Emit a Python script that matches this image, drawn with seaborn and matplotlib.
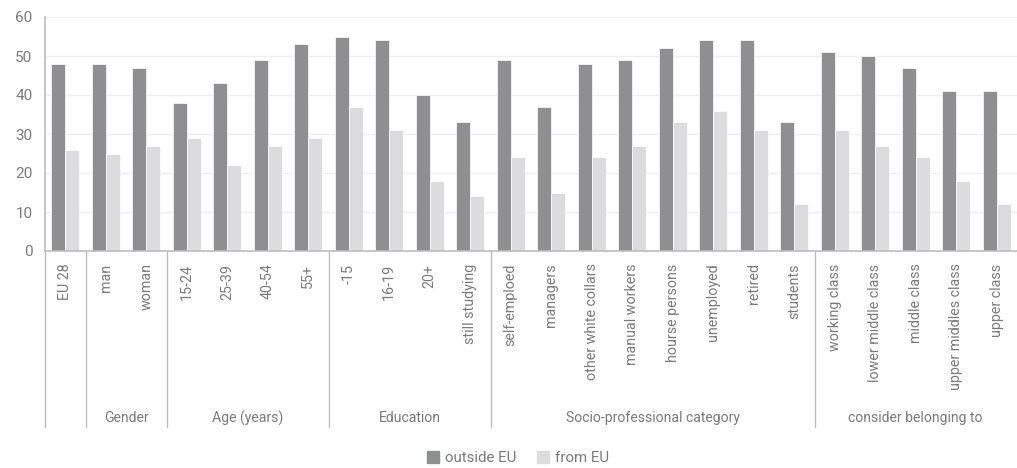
import pandas as pd
import matplotlib
matplotlib.use("Agg")
import matplotlib.pyplot as plt
import matplotlib.transforms as mtransforms
import seaborn as sns

# Categories and values
categories = ["EU 28", "man", "woman", "15-24", "25-39", "40-54", "55+",
              "-15", "16-19", "20+", "still studying",
              "self-emploed", "managers", "other white collars", "manual workers",
              "hourse persons", "unemployed", "retired", "students",
              "working class", "lower middle class", "middle class",
              "upper middles class", "upper class"]
outside_eu = [48, 48, 47, 38, 43, 49, 53, 55, 54, 40, 33,
              49, 37, 48, 49, 52, 54, 54, 33, 51, 50, 47, 41, 41]
from_eu = [26, 25, 27, 29, 22, 27, 29, 37, 31, 18, 14,
           24, 15, 24, 27, 33, 36, 31, 12, 31, 27, 24, 18, 12]
groups = ["", "Gender", "Age (years)", "Education",
          "Socio-professional category", "consider belonging to"]
group_sizes = [1, 2, 4, 4, 8, 5]
series = ["outside EU", "from EU"]
colors = {"outside EU": "#8e8f93", "from EU": "#dcdcde"}

# Long dataframe for seaborn
df = pd.DataFrame({
    "category": categories * 2,
    "value": outside_eu + from_eu,
    "series": [series[0]] * len(categories) + [series[1]] * len(categories),
})

sns.set_style("white")
plt.rcParams["font.family"] = ["Roboto", "DejaVu Sans"]
txt = "#7a7a7a"
line = "#bdbdbd"

fig = plt.figure(figsize=(10.17, 4.68), dpi=100)
ax = fig.add_axes([45 / 1017, 1 - 251 / 468, 1 - 45 / 1017, 234 / 468])

sns.barplot(data=df, x="category", y="value", hue="series", order=categories,
            hue_order=series, palette=colors, width=0.68, dodge=True,
            edgecolor="white", linewidth=0.5, ax=ax, legend=False)

ax.set_xlim(-0.5, len(categories) - 0.5)
ax.set_ylim(0, 60)
ax.set_yticks(range(0, 61, 10))
ax.grid(axis="y", color="#efefef", linewidth=1)
ax.set_axisbelow(True)
ax.set_xlabel("")
ax.set_ylabel("")
for s in ["top", "right"]:
    ax.spines[s].set_visible(False)
for s in ["left", "bottom"]:
    ax.spines[s].set_color(line)
    ax.spines[s].set_linewidth(1.2)

ax.tick_params(axis="y", length=5, color=line, labelsize=11, labelcolor=txt, pad=4)
ax.tick_params(axis="x", length=0, labelsize=10.3, labelcolor=txt, pad=9)
ax.set_xticks(range(len(categories)))
ax.set_xticklabels(categories, rotation=90, va="top", ha="center")

# Group separators and group labels below the axis
trans = mtransforms.blended_transform_factory(ax.transData, ax.transAxes)
start = -0.5
for name, n in zip(groups, group_sizes):
    ax.plot([start, start], [0, -176 / 234], transform=trans, color=line,
            linewidth=1, clip_on=False)
    if name:
        ax.text(start + n / 2, -167 / 234, name, transform=trans, ha="center",
                va="center", fontsize=10.1, color=txt)
    start += n

# Legend
handles = [plt.Rectangle((0, 0), 1, 1, color=colors[s]) for s in series]
fig.legend(handles, series, loc="center", bbox_to_anchor=(518 / 1017, 1 - 458 / 468),
           ncol=2, frameon=False, fontsize=10.8, labelcolor=txt, handlelength=0.8,
           handleheight=0.8, handletextpad=0.4, columnspacing=1.4)

fig.savefig("out.png", dpi=100)
